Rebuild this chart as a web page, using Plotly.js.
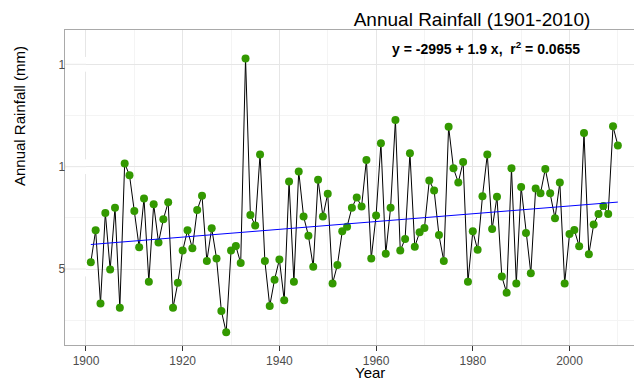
<!DOCTYPE html>
<html>
<head>
<meta charset="utf-8">
<script src="https://cdn.plot.ly/plotly-3.0.1.min.js"></script>
<style>
  html, body { margin: 0; padding: 0; overflow: hidden; background: #fff; }
  #chart { width: 634px; height: 381px; }
</style>
</head>
<body>
<div id="chart"></div>
<script>
// ---- data ----
const years = [
  1901,1902,1903,1904,1905,1906,1907,1908,1909,1910,
  1911,1912,1913,1914,1915,1916,1917,1918,1919,1920,
  1921,1922,1923,1924,1925,1926,1927,1928,1929,1930,
  1931,1932,1933,1934,1935,1936,1937,1938,1939,1940,
  1941,1942,1943,1944,1945,1946,1947,1948,1949,1950,
  1951,1952,1953,1954,1955,1956,1957,1958,1959,1960,
  1961,1962,1963,1964,1965,1966,1967,1968,1969,1970,
  1971,1972,1973,1974,1975,1976,1977,1978,1979,1980,
  1981,1982,1983,1984,1985,1986,1987,1988,1989,1990,
  1991,1992,1993,1994,1995,1996,1997,1998,1999,2000,
  2001,2002,2003,2004,2005,2006,2007,2008,2009,2010
];
const rainfall = [
  533, 689, 332, 774, 498, 800, 311,1016, 958, 783,
  606, 845, 438, 816, 630, 743, 826, 311, 433, 590,
  689, 601, 788, 858, 539, 699, 552, 295, 191, 590,
  612, 529,1529, 764, 713,1059, 539, 319, 448, 547,
  347, 927, 438, 977, 757, 663, 511, 936, 757, 868,
  430, 520, 684, 707, 800, 849, 805,1033, 552, 762,
 1114, 575, 800,1228, 590, 647,1065, 609, 680, 700,
  932, 884, 666, 539,1195, 992, 923,1023, 438, 684,
  594, 855,1059, 695, 853, 464, 384, 992, 430, 901,
  676, 479, 894, 870, 989, 870, 748, 923, 430, 671,
  691, 611,1164, 572, 717, 769, 808, 769,1197,1104
];
const xTickVals = [1900, 1920, 1940, 1960, 1980, 2000];
const xTickText = ['1900', '1920', '1940', '1960', '1980', '2000'];
const xMinorVals = [1910, 1930, 1950, 1970, 1990, 2010];
const yTickVals = [500, 1000, 1500];
const yTickText = ['500', '1000', '1500'];
const yMinorVals = [250, 750, 1250];
const chartTitle = 'Annual Rainfall (1901-2010)';
const xTitle = 'Year';
const yTitle = 'Annual Rainfall (mm)';

// ---- least-squares fit from the data ----
const n = years.length;
const mx = years.reduce((a, b) => a + b, 0) / n;
const my = rainfall.reduce((a, b) => a + b, 0) / n;
let sxy = 0, sxx = 0;
for (let i = 0; i < n; i++) {
  sxy += (years[i] - mx) * (rainfall[i] - my);
  sxx += (years[i] - mx) * (years[i] - mx);
}
const slope = sxy / sxx;
const intercept = my - slope * mx;
const fitX = [years[0], years[n - 1]];
const fitY = fitX.map(x => intercept + slope * x);
const eqText = '<b>y = -2995 + 1.9 x,  r<sup>2</sup> = 0.0655</b>';

const FONT = '"Liberation Sans", Arial, sans-serif';
const GRID = '#e6e6e6';
const MINOR = '#f4f4f4';

// plot geometry in px
const W = 634, H = 381, L = 65, R = 0, T = 30, B = 36;
const pw = W - L - R, ph = H - T - B;
const px = x => (x - L) / pw;          // px -> paper x
const py = y => (H - B - y) / ph;      // px -> paper y

const traces = [
  {
    x: years, y: rainfall, type: 'scatter', mode: 'lines+markers',
    line: { color: '#000000', width: 1 },
    marker: { color: '#339900', size: 8 },
    hoverinfo: 'x+y', showlegend: false
  },
  {
    x: fitX, y: fitY, type: 'scatter', mode: 'lines',
    line: { color: '#0000ff', width: 1 },
    hoverinfo: 'skip', showlegend: false
  }
];

// white cover clipping the y tick labels at the panel edge, plus grid stubs
const coverW = px(86);
const shapes = [];
yTickVals.forEach(v => {
  shapes.push({ type: 'rect', layer: 'above', xref: 'paper', yref: 'y',
    x0: 0.0005, x1: coverW, y0: v - 36, y1: v + 36,
    fillcolor: '#ffffff', line: { width: 0 } });
  shapes.push({ type: 'line', layer: 'above', xref: 'paper', yref: 'y',
    x0: 0.0005, x1: coverW, y0: v, y1: v,
    line: { color: GRID, width: 1 } });
});

const layout = {
  width: W, height: H,
  margin: { l: L, r: R, t: T, b: B, pad: 0 },
  paper_bgcolor: '#ffffff', plot_bgcolor: '#ffffff',
  font: { family: FONT, color: '#000000' },
  showlegend: false,
  title: {
    text: chartTitle, xref: 'container', yref: 'container',
    x: 472 / W, xanchor: 'center', y: 1 - 19 / H, yanchor: 'middle',
    font: { size: 19, color: '#000000', family: FONT }
  },
  xaxis: {
    range: [1895.66, 2013.34],
    tickmode: 'array', tickvals: xTickVals, ticktext: xTickText,
    ticks: 'outside', ticklen: 5, tickwidth: 1, tickcolor: '#333333',
    tickfont: { size: 12, color: '#4d4d4d', family: FONT },
    showline: true, linecolor: '#a9a9a9', linewidth: 1, mirror: true,
    showgrid: true, gridcolor: GRID, gridwidth: 1, zeroline: false,
    minor: { tickmode: 'array', tickvals: xMinorVals, showgrid: true, gridcolor: MINOR, gridwidth: 1, ticks: '' },
    fixedrange: true
  },
  yaxis: {
    range: [129, 1667.6],
    tickmode: 'array', tickvals: yTickVals, ticktext: yTickText,
    ticks: '', ticklabelposition: 'inside', ticklabelstandoff: -7,
    tickfont: { size: 12, color: '#4d4d4d', family: FONT },
    showline: true, linecolor: '#a9a9a9', linewidth: 1, mirror: false,
    showgrid: true, gridcolor: GRID, gridwidth: 1, zeroline: false,
    minor: { tickmode: 'array', tickvals: yMinorVals, showgrid: true, gridcolor: MINOR, gridwidth: 1, ticks: '' },
    fixedrange: true
  },
  shapes: shapes,
  annotations: [
    { text: eqText, xref: 'paper', yref: 'paper', x: px(485.5), y: py(48),
      xanchor: 'center', yanchor: 'middle', showarrow: false,
      font: { size: 14, color: '#000000', family: FONT } },
    { text: xTitle, xref: 'paper', yref: 'paper', x: px(370), y: py(372.5),
      xanchor: 'center', yanchor: 'middle', showarrow: false,
      font: { size: 15, color: '#000000', family: FONT } },
    { text: yTitle, xref: 'paper', yref: 'paper', x: px(19), y: py(116),
      xanchor: 'center', yanchor: 'middle', showarrow: false, textangle: -90,
      font: { size: 15, color: '#000000', family: FONT } }
  ]
};

Plotly.newPlot('chart', traces, layout, { displayModeBar: false, staticPlot: true });
</script>
</body>
</html>
